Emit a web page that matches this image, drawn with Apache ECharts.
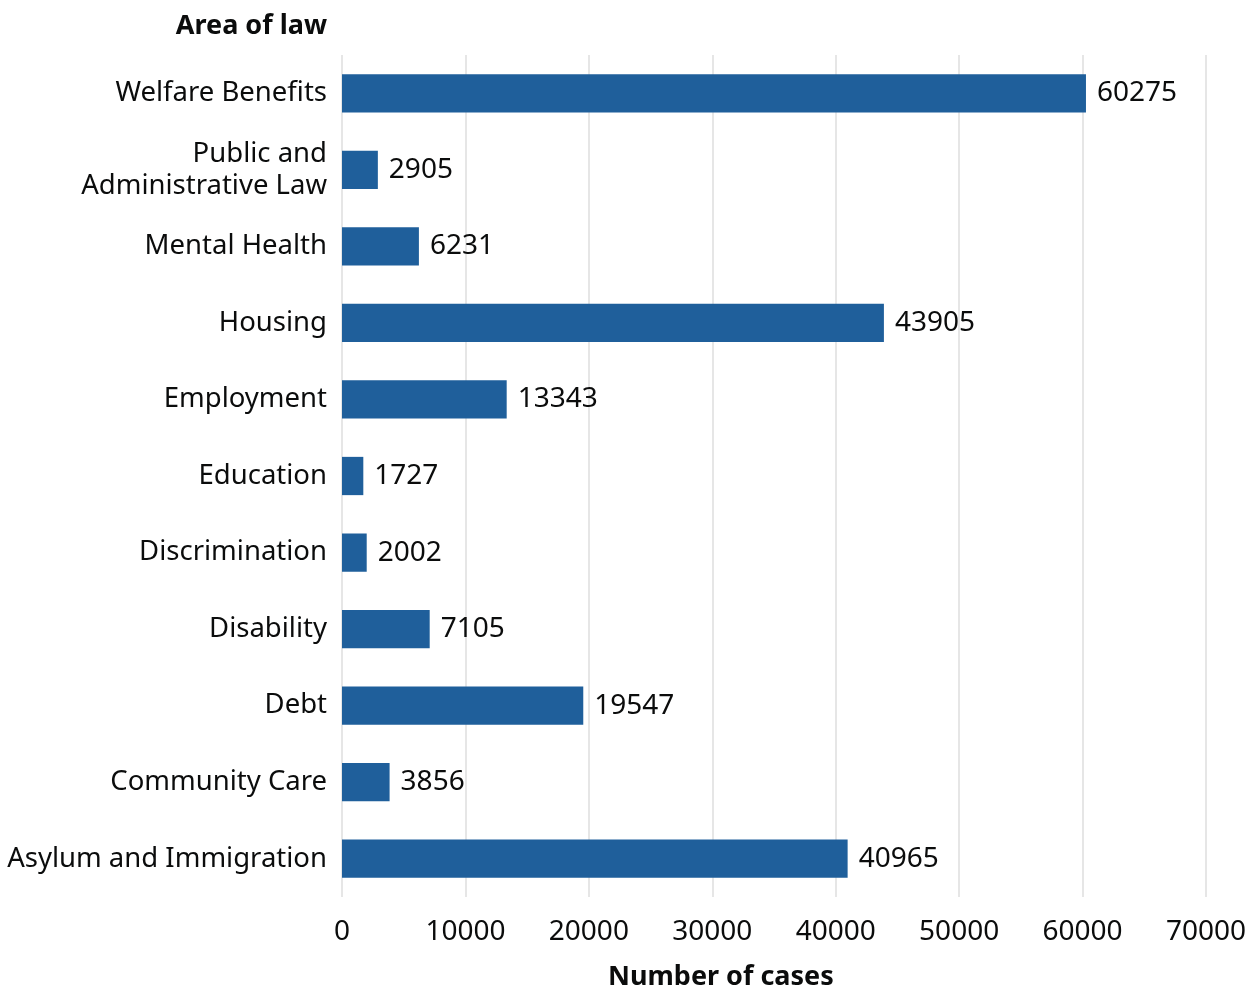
<!DOCTYPE html>
<html>
<head>
<meta charset="utf-8">
<script src="https://cdn.jsdelivr.net/npm/echarts@6/dist/echarts.min.js"></script>
<style>
  html, body { margin: 0; padding: 0; background: #fff; }
  #chart { width: 1259px; height: 990px; }
</style>
</head>
<body>
<div id="chart"></div>
<script>
// categories, top to bottom
var areas = [
  "Welfare Benefits",
  "Public and\nAdministrative Law",
  "Mental Health",
  "Housing",
  "Employment",
  "Education",
  "Discrimination",
  "Disability",
  "Debt",
  "Community Care",
  "Asylum and Immigration"
];
var cases = [60275, 2905, 6231, 43905, 13343, 1727, 2002, 7105, 19547, 3856, 40965];
var xTicks = [0, 10000, 20000, 30000, 40000, 50000, 60000, 70000];

var font = "Noto Sans";
var myChart = echarts.init(document.getElementById("chart"));

var option = {
  animation: false,
  textStyle: { fontFamily: font },
  title: [
    {
      text: "Area of law",
      right: 1259 - 332,
      top: 8,
      textStyle: { fontFamily: font, fontSize: 27, fontWeight: "bold", color: "#0b0c0c" }
    },
    {
      text: "Number of cases",
      left: 603,
      top: 959,
      textStyle: { fontFamily: font, fontSize: 27, fontWeight: "bold", color: "#0b0c0c" }
    }
  ],
  grid: {
    left: 342,
    right: 53,
    top: 55,
    bottom: 93,
    containLabel: false
  },
  xAxis: {
    type: "value",
    min: xTicks[0],
    max: xTicks[xTicks.length - 1],
    interval: 10000,
    axisLine: { show: false },
    axisTick: { show: false },
    axisLabel: {
      fontSize: 28, color: "#0b0c0c", margin: 21, fontFamily: font,
      formatter: function (v) { return String(v); }
    },
    splitLine: { show: true, lineStyle: { color: "#dedede", width: 1.5 } }
  },
  yAxis: {
    type: "category",
    inverse: true,
    data: areas,
    axisLine: { show: false },
    axisTick: { show: false },
    axisLabel: { fontSize: 27.5, color: "#0b0c0c", margin: 15, lineHeight: 32, fontFamily: font }
  },
  series: [
    {
      name: "Number of cases",
      type: "bar",
      data: cases,
      barWidth: "50%",
      itemStyle: { color: "#1f5f9b" },
      label: {
        show: true,
        position: "right",
        distance: 11,
        fontSize: 28,
        color: "#0b0c0c",
        fontFamily: font
      }
    }
  ]
};
myChart.setOption(option);
</script>
</body>
</html>
